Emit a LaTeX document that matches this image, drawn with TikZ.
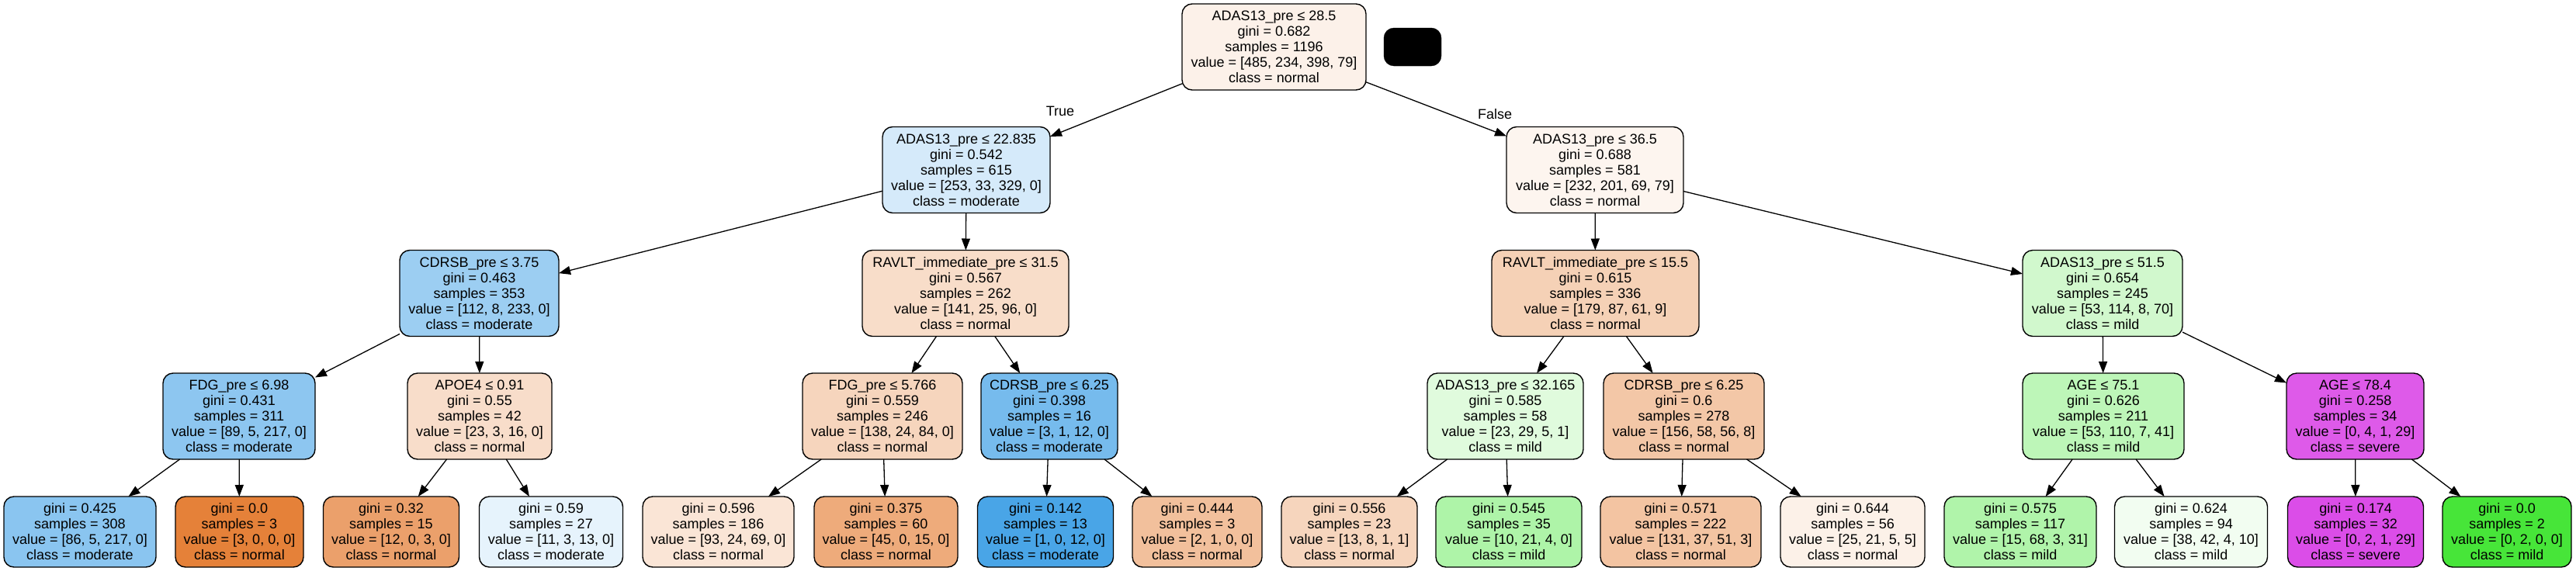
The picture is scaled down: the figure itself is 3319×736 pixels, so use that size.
\documentclass[tikz,border=0pt]{standalone}
\usepackage{fontspec}
\setmainfont{Liberation Sans}
\usetikzlibrary{arrows.meta}
\definecolor{normalC}{HTML}{E58139}
\definecolor{mildC}{HTML}{47E539}
\definecolor{modC}{HTML}{399DE5}
\definecolor{sevC}{HTML}{D739E5}
\tikzset{
  tn/.style={draw=black, rounded corners=13pt, line width=1.4pt, align=center,
    inner sep=0pt, outer sep=0pt, minimum height=111pt,
    font=\fontsize{18}{20}\selectfont},
  lf/.style={tn, minimum height=91pt},
  ed/.style={-{Triangle[length=15pt,width=11pt]}, line width=1.3pt},
  lbl/.style={font=\fontsize{18}{20}\selectfont, inner sep=0pt}
}
\begin{document}
\begin{tikzpicture}[x=1pt,y=-1pt]
\fill[white] (0,0) rectangle (3319,736);
\useasboundingbox (0,0) rectangle (3319,736);
% row 0
\node[tn, fill=normalC!10.9!white, minimum width=237pt] (n0) at (1641.5,60.5) {ADAS13\_pre ≤ 28.5\\gini = 0.682\\samples = 1196\\value = [485, 234, 398, 79]\\class = normal};
\node[fill=black, draw=black, rounded corners=13pt, minimum width=74pt, minimum height=49pt, inner sep=0pt, outer sep=0pt] (blk) at (1820,60.5) {};
% row 1
\node[tn, fill=modC!21!white, minimum width=216pt] (n1) at (1245,219) {ADAS13\_pre ≤ 22.835\\gini = 0.542\\samples = 615\\value = [253, 33, 329, 0]\\class = moderate};
\node[tn, fill=normalC!8.2!white, minimum width=228pt] (n2) at (2055,219) {ADAS13\_pre ≤ 36.5\\gini = 0.688\\samples = 581\\value = [232, 201, 69, 79]\\class = normal};
% row 2
\node[tn, fill=modC!50.2!white, minimum width=205pt] (n3) at (617.5,378) {CDRSB\_pre ≤ 3.75\\gini = 0.463\\samples = 353\\value = [112, 8, 233, 0]\\class = moderate};
\node[tn, fill=normalC!27.1!white, minimum width=266pt] (n4) at (1244,378) {RAVLT\_immediate\_pre ≤ 31.5\\gini = 0.567\\samples = 262\\value = [141, 25, 96, 0]\\class = normal};
\node[tn, fill=normalC!36.9!white, minimum width=267pt] (n5) at (2055.5,378) {RAVLT\_immediate\_pre ≤ 15.5\\gini = 0.615\\samples = 336\\value = [179, 87, 61, 9]\\class = normal};
\node[tn, fill=mildC!25.1!white, minimum width=206pt] (n6) at (2709,378) {ADAS13\_pre ≤ 51.5\\gini = 0.654\\samples = 245\\value = [53, 114, 8, 70]\\class = mild};
% row 3
\node[tn, fill=modC!57.7!white, minimum width=196pt] (n7) at (308,536.5) {FDG\_pre ≤ 6.98\\gini = 0.431\\samples = 311\\value = [89, 5, 217, 0]\\class = moderate};
\node[tn, fill=normalC!26.9!white, minimum width=186pt] (n8) at (618,536.5) {APOE4 ≤ 0.91\\gini = 0.55\\samples = 42\\value = [23, 3, 16, 0]\\class = normal};
\node[tn, fill=normalC!33.3!white, minimum width=206pt] (n9) at (1137,536.5) {FDG\_pre ≤ 5.766\\gini = 0.559\\samples = 246\\value = [138, 24, 84, 0]\\class = normal};
\node[tn, fill=modC!69.2!white, minimum width=176pt] (n10) at (1352,536.5) {CDRSB\_pre ≤ 6.25\\gini = 0.398\\samples = 16\\value = [3, 1, 12, 0]\\class = moderate};
\node[tn, fill=mildC!17.1!white, minimum width=201pt] (n11) at (1939.5,536.5) {ADAS13\_pre ≤ 32.165\\gini = 0.585\\samples = 58\\value = [23, 29, 5, 1]\\class = mild};
\node[tn, fill=normalC!44.5!white, minimum width=207pt] (n12) at (2169.5,536.5) {CDRSB\_pre ≤ 6.25\\gini = 0.6\\samples = 278\\value = [156, 58, 56, 8]\\class = normal};
\node[tn, fill=mildC!36.1!white, minimum width=208pt] (n13) at (2710,536.5) {AGE ≤ 75.1\\gini = 0.626\\samples = 211\\value = [53, 110, 7, 41]\\class = mild};
\node[tn, fill=sevC!83.3!white, minimum width=177pt] (n14) at (3034.5,536.5) {AGE ≤ 78.4\\gini = 0.258\\samples = 34\\value = [0, 4, 1, 29]\\class = severe};
% row 4 (leaves)
\node[lf, fill=modC!59!white, minimum width=196pt] (l1) at (103,685.5) {gini = 0.425\\samples = 308\\value = [86, 5, 217, 0]\\class = moderate};
\node[lf, fill=normalC, minimum width=165pt] (l2) at (308.5,685.5) {gini = 0.0\\samples = 3\\value = [3, 0, 0, 0]\\class = normal};
\node[lf, fill=normalC!75!white, minimum width=175pt] (l3) at (504,685.5) {gini = 0.32\\samples = 15\\value = [12, 0, 3, 0]\\class = normal};
\node[lf, fill=modC!12.5!white, minimum width=185pt] (l4) at (710,685.5) {gini = 0.59\\samples = 27\\value = [11, 3, 13, 0]\\class = moderate};
\node[lf, fill=normalC!20.5!white, minimum width=195pt] (l5) at (925.5,685.5) {gini = 0.596\\samples = 186\\value = [93, 24, 69, 0]\\class = normal};
\node[lf, fill=normalC!66.7!white, minimum width=185pt] (l6) at (1141.5,685.5) {gini = 0.375\\samples = 60\\value = [45, 0, 15, 0]\\class = normal};
\node[lf, fill=modC!91.7!white, minimum width=175pt] (l7) at (1347,685.5) {gini = 0.142\\samples = 13\\value = [1, 0, 12, 0]\\class = moderate};
\node[lf, fill=normalC!50!white, minimum width=167pt] (l8) at (1542.5,685.5) {gini = 0.444\\samples = 3\\value = [2, 1, 0, 0]\\class = normal};
\node[lf, fill=normalC!33.3!white, minimum width=175pt] (l9) at (1738.5,685.5) {gini = 0.556\\samples = 23\\value = [13, 8, 1, 1]\\class = normal};
\node[lf, fill=mildC!44!white, minimum width=188pt] (l10) at (1944,685.5) {gini = 0.545\\samples = 35\\value = [10, 21, 4, 0]\\class = mild};
\node[lf, fill=normalC!46.8!white, minimum width=207pt] (l11) at (2165.5,685.5) {gini = 0.571\\samples = 222\\value = [131, 37, 51, 3]\\class = normal};
\node[lf, fill=normalC!11.4!white, minimum width=186pt] (l12) at (2387,685.5) {gini = 0.644\\samples = 56\\value = [25, 21, 5, 5]\\class = normal};
\node[lf, fill=mildC!43!white, minimum width=196pt] (l13) at (2603,685.5) {gini = 0.575\\samples = 117\\value = [15, 68, 3, 31]\\class = mild};
\node[lf, fill=mildC!7.1!white, minimum width=197pt] (l14) at (2823,685.5) {gini = 0.624\\samples = 94\\value = [38, 42, 4, 10]\\class = mild};
\node[lf, fill=sevC!90!white, minimum width=175pt] (l15) at (3035,685.5) {gini = 0.174\\samples = 32\\value = [0, 2, 1, 29]\\class = severe};
\node[lf, fill=mildC, minimum width=166pt] (l16) at (3230,685.5) {gini = 0.0\\samples = 2\\value = [0, 2, 0, 0]\\class = mild};
% labels
\node[lbl] (tl) at (1366,143) {True};
\node[lbl] (fl) at (1926,147) {False};
% edges
\draw[ed] (n0) -- (n1);
\draw[ed] (n0) -- (n2);
\draw[ed] (n1) -- (n3);
\draw[ed] (n1) -- (n4);
\draw[ed] (n2) -- (n5);
\draw[ed] (n2) -- (n6);
\draw[ed] (n3) -- (n7);
\draw[ed] (n3) -- (n8);
\draw[ed] (n4) -- (n9);
\draw[ed] (n4) -- (n10);
\draw[ed] (n5) -- (n11);
\draw[ed] (n5) -- (n12);
\draw[ed] (n6) -- (n13);
\draw[ed] (n6) -- (n14);
\draw[ed] (n7) -- (l1);
\draw[ed] (n7) -- (l2);
\draw[ed] (n8) -- (l3);
\draw[ed] (n8) -- (l4);
\draw[ed] (n9) -- (l5);
\draw[ed] (n9) -- (l6);
\draw[ed] (n10) -- (l7);
\draw[ed] (n10) -- (l8);
\draw[ed] (n11) -- (l9);
\draw[ed] (n11) -- (l10);
\draw[ed] (n12) -- (l11);
\draw[ed] (n12) -- (l12);
\draw[ed] (n13) -- (l13);
\draw[ed] (n13) -- (l14);
\draw[ed] (n14) -- (l15);
\draw[ed] (n14) -- (l16);
\end{tikzpicture}
\end{document}
